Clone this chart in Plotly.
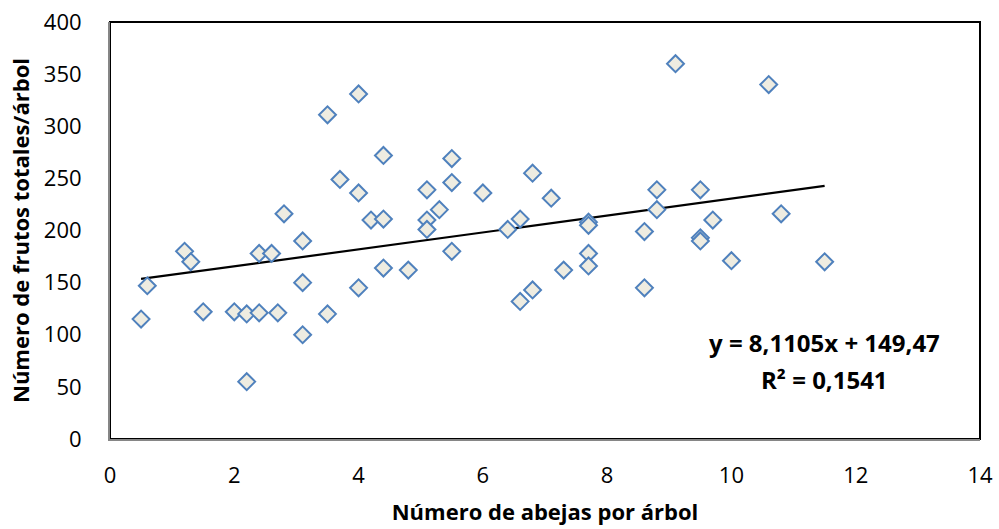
import plotly.graph_objects as go

# Bees per tree vs. total fruits per tree
abejas = [0.5, 0.6, 1.2, 1.3, 1.5, 2.0, 2.2, 2.2, 2.4, 2.4, 2.6, 2.7, 2.8, 3.1, 3.1,
          3.1, 3.5, 3.5, 3.7, 4.0, 4.0, 4.0, 4.2, 4.4, 4.4, 4.4, 4.8, 5.1, 5.1, 5.1,
          5.3, 5.5, 5.5, 5.5, 6.0, 6.4, 6.6, 6.6, 6.8, 6.8, 7.1, 7.3, 7.7, 7.7, 7.7,
          7.7, 8.6, 8.6, 8.8, 8.8, 9.1, 9.5, 9.5, 9.5, 9.7, 10.0, 10.6, 10.8, 11.5]
frutos = [115, 147, 180, 170, 122, 122, 120, 55, 121, 178, 178, 121, 216, 190, 150,
          100, 311, 120, 249, 331, 236, 145, 210, 272, 211, 164, 162, 239, 210, 201,
          220, 269, 246, 180, 236, 201, 211, 132, 255, 143, 231, 162, 208, 205, 178,
          166, 199, 145, 239, 220, 360, 239, 193, 190, 210, 171, 340, 216, 170]

# Linear trend line parameters
pendiente = 8.1105
intercepto = 149.47
r2 = 0.1541

x_ticks = [0, 2, 4, 6, 8, 10, 12, 14]
y_ticks = [0, 50, 100, 150, 200, 250, 300, 350, 400]

FONT = "Open Sans, Noto Sans, sans-serif"

x_line = [min(abejas), max(abejas)]
y_line = [intercepto + pendiente * v for v in x_line]

fig = go.Figure()
fig.add_trace(go.Scatter(
    x=x_line, y=y_line, mode="lines",
    line=dict(color="black", width=2.2), hoverinfo="skip", showlegend=False,
))
fig.add_trace(go.Scatter(
    x=abejas, y=frutos, mode="markers",
    marker=dict(symbol="diamond", size=13, color="#EEECE1",
                line=dict(color="#4F81BD", width=2)),
    showlegend=False,
))

# Plot-area border (top and right edges visible as black)
fig.add_shape(type="rect", xref="paper", yref="paper", x0=0, y0=0, x1=1, y1=1,
              line=dict(color="black", width=2), layer="below")

ecuacion = f"y = {pendiente:.4f}x + {intercepto:.2f}".replace(".", ",")
coef = f"R² = {r2:.4f}".replace(".", ",")
fig.add_annotation(
    x=0.8215, y=0.231, xref="paper", yref="paper", showarrow=False,
    xanchor="center", yanchor="middle", text=f"<b>{ecuacion}</b>",
    font=dict(family=FONT, size=24, color="black"),
)
fig.add_annotation(
    x=0.8215, y=0.142, xref="paper", yref="paper", showarrow=False,
    xanchor="center", yanchor="middle", text=f"<b>{coef}</b>",
    font=dict(family=FONT, size=24, color="black"),
)

fig.update_layout(
    width=999, height=529,
    margin=dict(l=110, r=19, t=22, b=90),
    plot_bgcolor="white", paper_bgcolor="white",
    font=dict(family=FONT, size=22, color="black"),
    xaxis=dict(
        range=[0, 14], tickvals=x_ticks, showgrid=False, zeroline=False,
        showline=True, linecolor="#868686", linewidth=2, automargin=False,
        ticks="", ticklabelstandoff=16,
        tickfont=dict(family=FONT, size=22, color="black"),
        title=dict(text="<b>Número de abejas por árbol</b>", standoff=16,
                   font=dict(family=FONT, size=22, color="black")),
    ),
    yaxis=dict(
        range=[0, 400], tickvals=y_ticks, showgrid=False, zeroline=False,
        showline=True, linecolor="#868686", linewidth=2, automargin=False,
        ticks="", ticklabelstandoff=22,
        tickfont=dict(family=FONT, size=22, color="black"),
        title=dict(text="<b>Número de frutos totales/árbol</b>", standoff=8,
                   font=dict(family=FONT, size=22, color="black")),
    ),
)

fig.write_html("out.html")
